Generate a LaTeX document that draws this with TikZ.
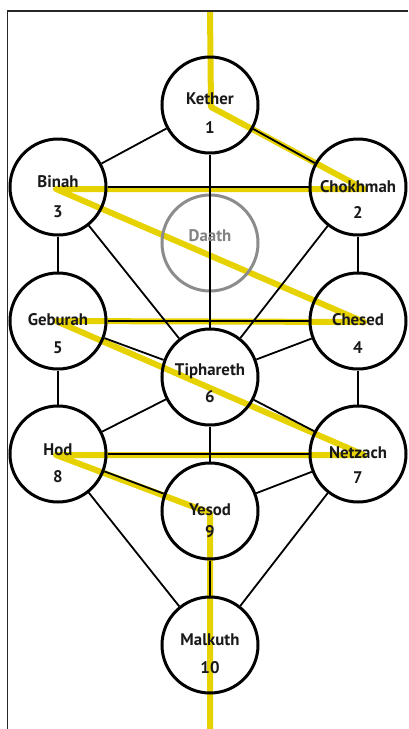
\documentclass[tikz,border=0pt]{standalone}
\usepackage{fontspec}
\setmainfont{PT Sans}
\definecolor{flashyellow}{RGB}{230,210,0}
\definecolor{daathgray}{RGB}{140,140,140}
\definecolor{daathtext}{RGB}{130,130,130}
\definecolor{inkcol}{RGB}{25,25,25}
\definecolor{framecol}{RGB}{40,40,40}
\pgfdeclarelayer{bg}
\pgfsetlayers{bg,main}
\begin{document}
\begin{tikzpicture}[x=1pt,y=-1pt,
  sef/.style={circle,draw=black,line width=3pt,minimum size=96pt,inner sep=0pt},
  daathc/.style={circle,draw=daathgray,line width=3pt,minimum size=96pt,inner sep=0pt},
  conn/.style={draw=black,line width=1.8pt},
  flash/.style={draw=flashyellow,line width=6pt,line join=round},
  framestyle/.style={draw=framecol,line width=1.3pt},
  nm/.style={font=\bfseries\fontsize{16.8}{17}\selectfont,anchor=base,text=inkcol,inner sep=0pt},
  dnm/.style={nm,text=daathtext}
]
\useasboundingbox (0,0) rectangle (408,729);
% frame
\coordinate (fr1) at (7.5,729);
\coordinate (fr2) at (7.5,11);
\coordinate (fr3) at (408,11);
\draw[framestyle] (fr1) -- (fr2) -- (fr3);

% sephiroth
\node[sef] (k) at (210,105) {};
\node[sef] (ch) at (358,187) {};
\node[sef] (b) at (58,187) {};
\node[daathc] (d) at (210,243) {};
\node[sef] (c) at (358,321) {};
\node[sef] (g) at (58,321) {};
\node[sef] (t) at (210,377) {};
\node[sef] (n) at (358,454) {};
\node[sef] (h) at (58,454) {};
\node[sef] (y) at (210,511) {};
\node[sef] (m) at (210,645) {};

% lightning flash
\coordinate (f0) at (210,11);
\coordinate (f1) at (211,107);
\coordinate (f2) at (364,189);
\coordinate (f3) at (56,189);
\coordinate (f4) at (364,322);
\coordinate (f5) at (56,321);
\coordinate (f6) at (364,455);
\coordinate (f7) at (56,455);
\coordinate (f8) at (210,513);
\coordinate (f9) at (210,729);
\begin{pgfonlayer}{bg}
\draw[flash] (f0) -- (f1) -- (f2) -- (f3) -- (f4) -- (f5) -- (f6) -- (f7) -- (f8) -- (f9);
\end{pgfonlayer}

% paths
\draw[conn] (k) -- (b);
\draw[conn] (k) -- (ch);
\draw[conn] (k) -- (t);
\draw[conn] (b) -- (ch);
\draw[conn] (b) -- (g);
\draw[conn] (b) -- (t);
\draw[conn] (ch) -- (c);
\draw[conn] (ch) -- (t);
\draw[conn] (g) -- (c);
\draw[conn] (g) -- (t);
\draw[conn] (c) -- (t);
\draw[conn] (g) -- (h);
\draw[conn] (c) -- (n);
\draw[conn] (t) -- (h);
\draw[conn] (t) -- (n);
\draw[conn] (t) -- (y);
\draw[conn] (h) -- (n);
\draw[conn] (h) -- (y);
\draw[conn] (n) -- (y);
\draw[conn] (h) -- (m);
\draw[conn] (n) -- (m);
\draw[conn] (y) -- (m);

% labels
\node[nm] (kn) at (210,104) {Kether};
\node[nm] (kv) at (210,133) {1};
\node[nm] (chn) at (358,192) {Chokhmah};
\node[nm] (chv) at (358,218) {2};
\node[nm] (bn) at (58,187) {Binah};
\node[nm] (bv) at (58,217) {3};
\node[dnm] (dn) at (210,241) {Daath};
\node[nm] (cn) at (358,325) {Chesed};
\node[nm] (cv) at (358,353) {4};
\node[nm] (gn) at (58,325) {Geburah};
\node[nm] (gv) at (58,353) {5};
\node[nm] (tn) at (210,375) {Tiphareth};
\node[nm] (tv) at (210,402) {6};
\node[nm] (nn) at (358,458) {Netzach};
\node[nm] (nv) at (358,483) {7};
\node[nm] (hn) at (58,455) {Hod};
\node[nm] (hv) at (58,482) {8};
\node[nm] (yn) at (210,515) {Yesod};
\node[nm] (yv) at (210,537) {9};
\node[nm] (mn) at (210,645) {Malkuth};
\node[nm] (mv) at (210,673) {10};
\end{tikzpicture}
\end{document}
